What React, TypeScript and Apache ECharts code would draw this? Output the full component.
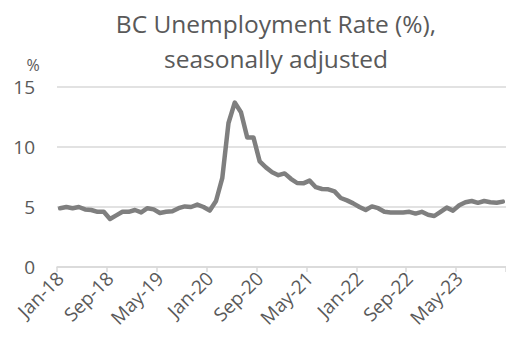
import React, { useEffect, useRef } from "react";
import * as echarts from "echarts";

const monthNames = ["Jan", "Feb", "Mar", "Apr", "May", "Jun", "Jul", "Aug", "Sep", "Oct", "Nov", "Dec"];
const years = ["18", "19", "20", "21", "22", "23"];

const rate2018 = [4.9, 5.0, 4.9, 5.0, 4.8, 4.75, 4.6, 4.6, 4.0, 4.3, 4.6, 4.6];
const rate2019 = [4.75, 4.55, 4.9, 4.8, 4.5, 4.6, 4.65, 4.9, 5.05, 5.0, 5.2, 5.0];
const rate2020 = [4.7, 5.5, 7.4, 12.0, 13.7, 12.9, 10.8, 10.8, 8.8, 8.3, 7.9, 7.65];
const rate2021 = [7.8, 7.35, 7.0, 6.97, 7.2, 6.65, 6.5, 6.47, 6.3, 5.75, 5.55, 5.3];
const rate2022 = [5.0, 4.75, 5.05, 4.9, 4.6, 4.55, 4.55, 4.55, 4.6, 4.45, 4.6, 4.35];
const rate2023 = [4.25, 4.6, 4.95, 4.7, 5.15, 5.4, 5.5, 5.35, 5.5, 5.4, 5.35, 5.45];

const yTicks = { min: 0, max: 15, interval: 5 };

export default function App() {
  const ref = useRef<HTMLDivElement>(null);
  useEffect(() => {
    if (!ref.current) return;
    const chart = echarts.init(ref.current, null, { renderer: "svg" });
    const categories: string[] = [];
    years.forEach((y) => monthNames.forEach((m) => categories.push(`${m}-${y}`)));
    const values = [...rate2018, ...rate2019, ...rate2020, ...rate2021, ...rate2022, ...rate2023];
    const font = "'Open Sans', sans-serif";
    chart.setOption({
      animation: false,
      title: {
        text: "BC Unemployment Rate (%),\nseasonally adjusted",
        left: 271,
        top: 1,
        textAlign: "center",
        textStyle: { fontFamily: font, fontSize: 24.5, fontWeight: "normal", color: "#595959", lineHeight: 35 },
      },
      graphic: [
        {
          type: "text",
          x: 33,
          y: 65,
          style: { text: "%", fontFamily: font, fontSize: 16, fill: "#595959", align: "center", verticalAlign: "middle" },
        },
      ],
      grid: { left: 57, right: 0, top: 87, bottom: 83 },
      xAxis: {
        type: "category",
        data: categories,
        boundaryGap: true,
        axisLine: { lineStyle: { color: "#d9d9d9", width: 1.5 } },
        axisTick: { show: true, interval: 7, length: 5, lineStyle: { color: "#d9d9d9", width: 1.5 } },
        axisLabel: { interval: 7, rotate: 45, margin: 8, fontFamily: font, fontSize: 19, color: "#595959" },
        splitLine: { show: false },
      },
      yAxis: {
        type: "value",
        min: yTicks.min,
        max: yTicks.max,
        interval: yTicks.interval,
        axisLine: { show: false },
        axisTick: { show: false },
        axisLabel: { margin: 22, fontFamily: font, fontSize: 19, color: "#595959" },
        splitLine: { lineStyle: { color: "#d9d9d9", width: 1.5 } },
      },
      series: [
        {
          type: "line",
          data: values,
          symbol: "none",
          lineStyle: { color: "#7f7f7f", width: 4.5, join: "round", cap: "round" },
        },
      ],
    });
    return () => chart.dispose();
  }, []);
  return <div ref={ref} style={{ width: 506, height: 350, position: "absolute", left: 0, top: 0 }} />;
}
